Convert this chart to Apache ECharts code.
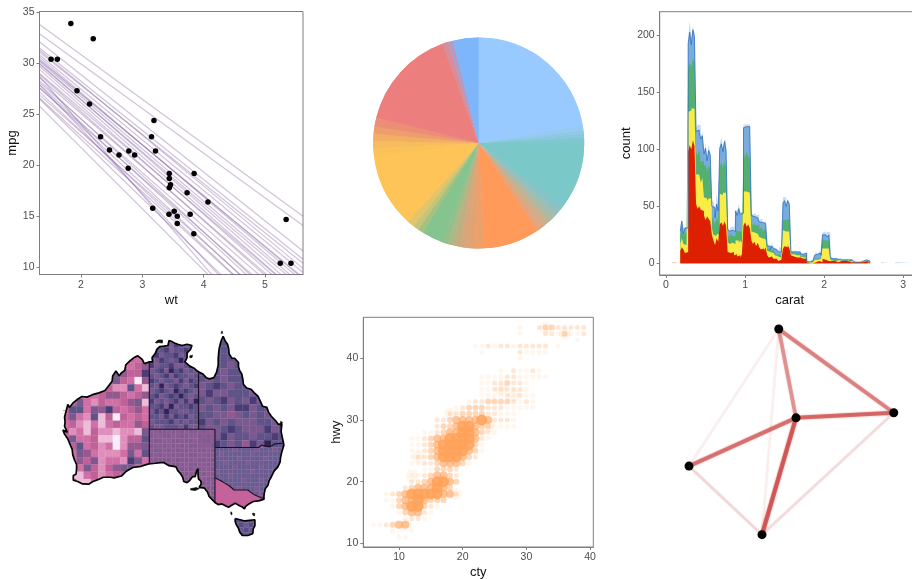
<!DOCTYPE html>
<html><head><meta charset="utf-8">
<style>html,body{margin:0;padding:0;background:#fff}#c{width:912px;height:579px;filter:blur(0.45px)}</style>
<script src="https://cdn.jsdelivr.net/npm/echarts@6/dist/echarts.min.js"></script>
</head><body><div id="c"></div>
<script>
// ---------- panel 1: mpg vs wt
const wt  = [2.62,2.875,2.32,3.215,3.44,3.46,3.57,3.19,3.15,3.44,3.44,4.07,3.73,3.78,5.25,5.424,5.345,2.2,1.615,1.835,2.465,3.52,3.435,3.84,3.845,1.935,2.14,1.513,3.17,2.77,3.57,2.78];
const mpg = [21,21,22.8,21.4,18.7,18.1,14.3,24.4,22.8,19.2,17.8,16.4,17.3,15.2,10.4,10.4,14.7,32.4,30.4,33.9,21.5,15.5,15.2,13.3,19.2,27.3,26,30.4,15.8,19.7,15,21.4];
const lineStart = [33.8,32.9,32.1,31.5,31.3,31.1,30.8,30.6,30.4,30.3,30.2,30.0,29.9,29.7,29.4,29.0,28.9,28.6,28.3,28.1,27.9,27.6,27.6,27.2,26.9,26.6,26.5,25.8,28.7,27.9];
const lineEnd   = [15,14.1,11.6,10.8,9.9,10.4,9.5,8.6,8.9,9,8.2,7.4,7.9,7,6.6,7,5.9,6.2,4.5,5.5,4.2,3.5,4.9,2.9,3.8,3,1.5,0,-1,0.5];
const wtEdges = [1.324,5.62];

// ---------- panel 2: pie
const pieValues = [80,3,2,2,3,37,3,3,3,3,3,4,31,5,4,4,4,3,3,12,3,3,4,40,5,4,4,4,5,56,3,3,14];
const pieColors = ['#99CAFF','#97C9F3','#8FC9E8','#88C8DC','#80C8CF','#7BC8C8','#86C3C6','#93C0BE','#A4BCAD','#B8B59B','#CDAE8B','#E0A67F','#FF9A5A','#ECA06A','#E2A272','#D8A678','#C2AE80','#ABB985','#96BE8B','#85C48F','#A3C280','#C4C578','#E3C46A','#FFC457','#FBC258','#F7BC5C','#F2AE63','#EE9E6C','#EC8D75','#EC7F7D','#D58E9E','#B49BC2','#7DB6FB'];

// ---------- panel 3: stacked carat histogram (five columns per 0.1 carat block)
const caratStart = [0.18,0.28,0.38,0.48,0.58,0.68,0.78,0.88,0.98,1.08,1.18,1.28,1.38,1.48,1.58,1.68,1.78,1.88,1.98,2.08,2.18,2.28,2.38,2.48];
const histRed = [[11,14,12,9,10],[98,104,100,108,103],[52,48,50,47,46],[42,38,41,39,37],[25,20,16,22,19],[34,36,33,37,33],[10,9,8,10,7],[8,6,7,5,8],[33,36,32,34,31],[20,17,19,15,18],[14,12,13,11,14],[7,5,6,5,4],[4,3,2,3,2],[13,15,14,16,13],[7,6,6,5,6],[5,4,4,3,4],[1,0,1,0,1],[1,1,2,1,1],[4,3,4,2,3],[2,1,2,2,1],[2,2,1,2,2],[2,2,1,2,1],[1,1,0,1,1],[1,1,2,1,1]];
const histYellow = [[6,8,5,7,6],[35,30,36,28,33],[26,30,28,24,29],[16,19,14,18,20],[6,5,8,4,6],[27,24,29,25,27],[9,8,10,9,10],[12,14,11,15,10],[30,27,31,28,32],[8,10,7,11,8],[9,10,8,10,8],[4,5,3,4,5],[3,3,4,2,3],[16,13,15,12,16],[1,2,1,2,1],[2,1,2,1,2],[0,1,0,1,0],[2,2,1,3,2],[9,10,8,11,9],[1,1,1,0,1],[1,0,1,1,0],[0,1,0,0,1],[0,0,1,0,0],[1,0,1,1,1]];
const histGreen = [[8,10,7,11,9],[38,42,36,44,40],[20,16,22,18,15],[27,30,25,29,26],[10,13,9,14,11],[25,28,22,27,24],[7,6,8,5,7],[9,8,11,8,10],[33,30,35,32,29],[8,6,9,7,8],[7,9,6,8,9],[2,3,2,3,2],[2,1,2,2,1],[9,10,8,11,9],[1,1,1,2,1],[2,1,1,2,1],[1,0,0,1,0],[1,1,2,1,1],[8,7,9,7,8],[1,1,1,1,0],[0,1,0,0,1],[0,0,1,0,0],[0,0,0,0,0],[0,0,0,0,0]];
const histBlue = [[3,5,2,4,6],[22,27,20,25,23],[18,23,15,20,22],[11,14,10,13,12],[9,11,7,12,10],[15,17,14,18,15],[4,5,3,6,4],[17,14,19,15,16],[23,27,21,26,24],[6,8,5,7,6],[6,5,8,6,5],[2,2,1,3,2],[3,4,2,3,4],[15,17,13,16,14],[1,1,2,1,1],[1,2,1,1,2],[0,0,1,0,1],[3,4,2,4,3],[4,5,4,3,5],[1,1,0,1,1],[0,1,1,0,0],[0,0,0,1,0],[0,0,0,0,0],[0,0,0,0,0]];
const histPale = [[4,2,5,1,3],[5,10,6,4,3],[3,5,6,2,4],[2,4,3,6,2],[3,7,2,10,4],[4,6,3,2,8],[2,1,3,2,1],[2,3,4,2,1],[3,2,4,2,3],[3,2,4,2,3],[2,3,1,2,3],[2,1,2,3,1],[1,3,1,5,2],[5,3,2,2,1],[1,1,1,1,0],[1,1,1,0,1],[0,1,0,1,0],[1,2,1,2,1],[2,3,1,5,2],[1,0,1,1,1],[0,1,0,0,1],[0,0,1,0,0],[0,0,0,0,0],[0,0,0,0,0]];
const traceRed = [[0.08,1],[0.17,1]];
const traceBlue = [[2.72,1],[2.82,1]];
const traceBlue2 = [[2.9,1],[3.1,1]];

// ---------- panel 4: cty vs hwy, level digits per hwy row beginning at a first cty
const scatterHwy   = [45,44,43,42,41,40,38,37,36,35,34,33,32,31,30,29,28,27,26,25,24,23,22,21,20,19,18,17,16,15,14,13,12,11];
const scatterFirst = [29,29,38,22,23,29,26,23,23,23,23,21,19,18,16,16,14,12,12,12,12,12,14,12,12,11,8,8,9,10,11,6,9,10];
const scatterLevels = ["10023322222","10002213112","1","11212212222201","10000021111","1","1021121","11112211111","11223221","11222221","111121211","12233332121","1233322211111","22333322111","2234444542221","2334554331111","112344554321","1123445555421","112345555531","112345555431","12234555432","1122344431","113332","11234432","22345543","23444543","123455555442","1134454333","13455321","134421","1221","112344","1001","11"];
const scatterHalo = [[36,44],[33,45],[18,31],[13,24],[12,21],[19,18],[11,13],[24,29],[26,35],[28,34]];

// ---------- panel 5: network
const nodeX = [47.5,93.5,54.4,11.6,40.8];
const nodeY = [93.9,57.5,55.3,34.3,4.5];
const edgeFrom = [0,0,2,3,4,0,0,3,4];
const edgeTo   = [1,2,1,2,2,3,4,4,1];
const edgeWeight = [0.58,0.5,0.72,0.66,0.82,0.09,0.09,0.2,0.18];

// ---------- panel 6: Australia map (lon/lat)
const coast = [[142.5,-10.7],[142.9,-11.5],[143.3,-12],[143.5,-12.7],[143.6,-13.6],[144.1,-14.3],[144.6,-14.3],[145.3,-15],[145.3,-15.7],[145.5,-16.3],[145.9,-16.9],[146.1,-17.8],[146.2,-18.6],[146.8,-19.2],[147.6,-19.4],[148.3,-20.1],[148.9,-20.6],[149.2,-21.2],[149.7,-22.2],[150.5,-22.4],[150.8,-23.2],[151.3,-23.85],[152.1,-24.6],[152.6,-25.2],[153.2,-25.1],[153.1,-26.4],[153.3,-27.3],[153.5,-28.1],[153.6,-28.65],[153.2,-29.8],[153,-30.6],[152.9,-31.4],[152.5,-32.2],[151.8,-32.9],[151.3,-33.85],[150.9,-34.5],[150.7,-35.2],[150.2,-35.8],[150,-36.6],[149.95,-37.1],[149.97,-37.5],[149,-37.8],[148,-37.9],[147.2,-38.3],[146.6,-38.7],[146.4,-39.1],[146,-38.8],[145.5,-38.6],[145.1,-38.4],[144.7,-38.2],[144.4,-38.3],[143.9,-38.6],[143.5,-38.85],[142.9,-38.6],[142.3,-38.3],[141.6,-38.4],[141,-38.05],[140.5,-37.6],[139.9,-37],[139.6,-36.3],[139.1,-35.7],[138.5,-35.6],[138.1,-35.6],[138.5,-35],[138.4,-34.5],[138,-34.2],[137.9,-33.4],[137.9,-32.5],[137.6,-33],[137.4,-33.8],[136.9,-33.8],[136.4,-34.4],[135.9,-34.8],[135.3,-34.6],[135.1,-33.9],[134.7,-33.3],[134.2,-32.8],[133.9,-32.2],[133.4,-32.1],[132.6,-32],[131.7,-31.5],[131.1,-31.5],[130.1,-31.6],[128.9,-31.7],[127.5,-32.1],[126,-32.3],[124.8,-32.9],[123.9,-33.7],[122.6,-34],[121.9,-33.9],[120.6,-33.9],[119.6,-34.3],[118.7,-34.6],[117.9,-35.05],[116.8,-35],[115.9,-34.6],[115.1,-34.4],[115.1,-33.6],[115.6,-33.4],[115.7,-32.5],[115.7,-31.8],[115.3,-31],[115,-30.2],[114.9,-29.3],[114.6,-28.7],[114.1,-27.6],[113.5,-26.8],[113.2,-26.1],[114,-26.5],[113.5,-25.5],[113.6,-24.8],[113.5,-24],[113.75,-23.1],[114.1,-21.9],[114.4,-22.4],[115,-21.7],[115.8,-21.1],[116.7,-20.6],[117.6,-20.7],[118.6,-20.3],[119.8,-20],[120.9,-19.6],[121.5,-18.9],[122.2,-18.1],[122.3,-17.2],[122.9,-16.4],[123.5,-17.2],[123.9,-16.7],[124.5,-16.3],[124.7,-15.4],[125.5,-14.7],[126.2,-14.2],[126.9,-13.9],[127.7,-14.5],[128.1,-15.2],[128.3,-14.9],[129,-14.9],[129.6,-14.9],[129.5,-14.2],[130.1,-13.5],[130.4,-12.8],[130.9,-12.4],[131.7,-12.3],[132.4,-12.2],[132.6,-11.4],[133,-11.5],[133.6,-11.8],[134.2,-12],[135,-12.2],[135.9,-12],[136.8,-12.2],[136.5,-12.9],[135.9,-13.4],[135.9,-14.2],[135.5,-14.9],[136.4,-15.6],[137.1,-15.9],[137.9,-16.5],[138.8,-16.9],[139.4,-17.5],[140,-17.7],[140.8,-17.5],[141.3,-16.6],[141.6,-15.4],[141.6,-14.3],[141.7,-13.2],[141.8,-12.6],[142.1,-11.5],[142.5,-10.7]];
const tasmania = [[144.7,-40.7],[145.6,-40.9],[146.5,-41.1],[147.3,-41],[148.3,-40.9],[148.3,-41.9],[148,-42.4],[147.9,-43.2],[147,-43.5],[146.8,-43.6],[146,-43.5],[145.5,-42.9],[145.3,-42.3],[144.9,-41.7],[144.7,-41.2],[144.7,-40.7]];
const islands = [
 [[130.1,-11.7],[130.6,-11.3],[131.4,-11.3],[131.4,-11.8],[130.7,-11.7],[130.3,-11.8]],
 [[136.5,-35.8],[137.6,-35.6],[138.1,-35.8],[137.4,-36.1],[136.6,-36]],
 [[136.4,-13.9],[136.9,-13.8],[136.8,-14.2],[136.4,-14.2]],
 [[153,-24.7],[153.3,-24.8],[153.2,-25.7],[153,-25.3]],
 [[143.9,-39.6],[144.1,-39.7],[144.1,-40.1],[143.9,-40]],
 [[147.9,-39.8],[148.3,-39.9],[148.2,-40.3],[147.9,-40.1]],
 [[142.1,-10.2],[142.4,-10.2],[142.3,-9.8]],
 [[113.4,-22.9],[113.5,-23]]
];
const stateBorders = [
 [[129,-14.9],[129,-31.7]],
 [[129,-26],[141,-26]],
 [[138,-16.6],[138,-26]],
 [[141,-26],[141,-38.05]],
 [[141,-29],[149,-29],[149.5,-28.6],[151,-28.9],[152,-28.4],[153.5,-28.3]],
 [[141,-34],[142.5,-34.7],[143.6,-35.3],[144.5,-36],[146,-36],[147,-36],[148.2,-36.8],[149.97,-37.5]]
];
const victoria = [[141,-34],[142.5,-34.7],[143.6,-35.3],[144.5,-36],[146,-36],[147,-36],[148.2,-36.8],[149.97,-37.5],[150.5,-40],[141,-40]];
const waLevels = ["555555555565","555555555654","555555534551","555555535694","555555577268","556665445654","553675665438","522634156546","536728595656","657868656645","576857787783","536658897552","552657697443","563467776362","564537667136","576357543354","588657655563","538867666555"];
const ntLevels = ["2323232322","2322312322","3221322123","2132213232","2312320322","1322133212","3213021323","2321312232","1232231312","2303212321","3212302123","2132120232","1323213130","2213032212","3120223322","2231312132","3222132322","2332223133"];
const qldLevels = ["222222232222","222222312222","222223212222","222222122222","222232232222","222322312222","232322322222","321232213222","313322231322","232132313222","323231132222","223343232322","132323332232","233212333132","223132232212","221232413022"];
const saLevels = ["443343434334344","344334433443434","433443343344334","344343434334443","433434343443343","343443434334434","434334343443343","343443344334434","434334434343443","344343343434344","433434434343433","344343343434344","433443434343433","344334343443434","434343434334343","343434343434434"];
const nswLevels = ["2222322223222322","2322222232222222","2222232222232223","2232222322222222","2222322222322222","3222222232222322","2223222222222222","2222223222322222","2322222222222232","2222232223222222","2232222222322222","2222222322222222"];
const tasLevels = ["11211","21212","12121","11211"];
const levelColors = ['#33215a','#4a3d75','#5f5388','#7a5a8e','#94598f','#bf6298','#d070a6','#e08fbc','#ecbcd8','#f6eef6'];
const fineColors = {1:'#574c84',2:'#695b8f',3:'#80598f',4:'#8c5a92'};
const fineStroke = {1:'#665b94',2:'#75679a',3:'#8f699c',4:'#97699d'};

// ---------- layout helpers
const axisC = '#7f7f7f', labC = '#4d4d4d', font = 'Liberation Sans';
function cartAxes(o){
  return {
    type:'value', gridIndex:o.g, min:o.min, max:o.max, name:o.name, nameLocation:'middle', nameGap:o.gap,
    nameTextStyle:{color:'#111',fontSize:13,fontFamily:font},
    axisLine:{show:true,onZero:false,lineStyle:{color:axisC,width:1}},
    axisTick:{show:true,length:3,lineStyle:{color:axisC},customValues:o.ticks},
    axisLabel:{color:labC,fontSize:10.5,fontFamily:font,margin:5,customValues:o.ticks,hideOverlap:false,showMinLabel:true,showMaxLabel:true},
    splitLine:{show:false}
  };
}
const hiddenAxis = (g,min,max)=>({type:'value',gridIndex:g,min,max,show:false,splitLine:{show:false}});
const panelGrid = (left,top,width,height)=>({left,top,width,height,show:true,borderColor:axisC,borderWidth:1,backgroundColor:'#fff',containLabel:false,outerBoundsMode:'none'});
const plainGrid = (left,top,width,height)=>({left,top,width,height,show:false,outerBoundsMode:'none'});

// ---------- series
const series = [];
// panel 1
lineStart.forEach((s,i)=>series.push({type:'line',xAxisIndex:0,yAxisIndex:0,data:[[wtEdges[0],s],[wtEdges[1],lineEnd[i]]],showSymbol:false,symbol:'none',clip:true,silent:true,lineStyle:{color:'rgba(125,85,155,0.36)',width:1.2},z:2}));
series.push({type:'scatter',xAxisIndex:0,yAxisIndex:0,data:wt.map((w,i)=>[w,mpg[i]]),symbolSize:5.5,itemStyle:{color:'#000',opacity:1},z:5,silent:true});
// panel 2: painted twice so that no seams show between the slices
for (let k=0;k<2;k++) series.push({type:'pie',center:[478.7,143],radius:[0,105.5],startAngle:90,clockwise:true,label:{show:false},labelLine:{show:false},silent:true,
  data:pieValues.map((v,i)=>({value:v,itemStyle:{color:pieColors[i],borderWidth:0}}))});
// panel 3: cumulative tops, painted from the tallest layer down
const caratX = caratStart.flatMap(c=>[0,1,2,3,4].map(k=>+(c+0.02*k).toFixed(2))).concat([2.58]);
const histLayers = [[histRed,'#DD2000',0],[histYellow,'#F8EC45',0],[histGreen,'#54B06E',0],[histBlue,'#78ACDC',0.8],[histPale,'#C8DBF0',0]];
const running = caratX.map(()=>0);
const histSeries = histLayers.map(([rows,color,edge])=>{
  const vals = rows.flat();
  vals.forEach((v,i)=>{running[i]+=v;});
  return {type:'line',xAxisIndex:1,yAxisIndex:1,step:'end',symbol:'none',showSymbol:false,silent:true,
    lineStyle:{width:edge,color:'#2F6FBF'},areaStyle:{color,opacity:1,origin:0},data:caratX.map((x,i)=>[x,i<vals.length?running[i]:0]),z:3};
});
histSeries.reverse().forEach(s=>series.push(s));
[[traceRed,'rgba(221,32,0,.35)'],[traceBlue,'rgba(110,164,216,.4)'],[traceBlue2,'rgba(110,164,216,.4)']].forEach(([d,color])=>{
  series.push({type:'line',xAxisIndex:1,yAxisIndex:1,symbol:'none',silent:true,lineStyle:{width:0},areaStyle:{color,opacity:1,origin:0},data:d,z:3});
});
// panel 4
const levelOpacity = [0,0.1,0.26,0.42,0.62,0.9], levelSize = [0,5,5,6,8,11];
for (let lv=1;lv<=5;lv++){
  const pts=[];
  scatterHwy.forEach((h,r)=>{[...scatterLevels[r]].forEach((d,k)=>{if(+d===lv)pts.push([scatterFirst[r]+k,h]);});});
  series.push({type:'scatter',xAxisIndex:2,yAxisIndex:2,data:pts,symbolSize:levelSize[lv],silent:true,itemStyle:{color:'#FFA25A',opacity:levelOpacity[lv]},z:3});
}
series.push({type:'scatter',xAxisIndex:2,yAxisIndex:2,data:scatterHalo,symbolSize:12,silent:true,itemStyle:{color:'#FFA25A',opacity:0.1},z:3});
// panel 5
series.push({type:'graph',coordinateSystem:'cartesian2d',xAxisIndex:4,yAxisIndex:4,layout:'none',silent:true,symbolSize:9,
  itemStyle:{color:'#000',opacity:1},label:{show:false},z:5,
  data:nodeX.map((x,i)=>({name:'n'+i,value:[x,nodeY[i]]})),
  links:edgeFrom.map((f,i)=>({source:f,target:edgeTo[i],lineStyle:{color:'rgb(205,75,75)',opacity:edgeWeight[i],width:edgeWeight[i]>0.4?3.4+edgeWeight[i]:2.8,curveness:0,shadowBlur:2,shadowColor:'rgba(205,75,75,'+edgeWeight[i]+')'}}))
});
// panel 6
const blocks = [
  {rows:waLevels,lon0:113,lat0:-13.8,dLon:1.3333,dLat:1.2},
  {rows:ntLevels,lon0:129,lat0:-10.9,dLon:0.9,dLat:0.84},
  {rows:qldLevels,lon0:138,lat0:-10,dLon:1.3333,dLat:1.1875},
  {rows:saLevels,lon0:129,lat0:-26,dLon:0.8,dLat:0.775,fine:true},
  {rows:nswLevels,lon0:141,lat0:-29,dLon:0.8125,dLat:0.72,fine:true},
  {rows:tasLevels,lon0:144.5,lat0:-40.5,dLon:0.9,dLat:0.85,fine:true}
];
const cells=[];
blocks.forEach(b=>b.rows.forEach((row,r)=>[...row].forEach((d,c)=>cells.push([b.lon0+c*b.dLon,b.lat0-r*b.dLat,b.lon0+(c+1)*b.dLon,b.lat0-(r+1)*b.dLat,+d,b.fine?1:0]))));
series.push({type:'custom',xAxisIndex:3,yAxisIndex:3,silent:true,clip:false,z:2,data:cells,
  renderItem(p,api){
    const a=api.coord([api.value(0),api.value(1)]), b=api.coord([api.value(2),api.value(3)]);
    const lv=api.value(4), fine=api.value(5);
    const col=fine?fineColors[lv]:levelColors[lv];
    return {type:'rect',shape:{x:a[0],y:a[1],width:b[0]-a[0],height:b[1]-a[1]},
      style:{fill:col,stroke:fine?fineStroke[lv]:col,lineWidth:fine?0.45:0.3}};
  }});
series.push({type:'custom',xAxisIndex:3,yAxisIndex:3,silent:true,clip:false,z:3,data:[[0]],
  renderItem(p,api){
    const pts=victoria.map(q=>api.coord(q));
    return {type:'polygon',shape:{points:pts},style:{fill:'#C4629B',stroke:'#C4629B',lineWidth:0.3}};
  }});
const TL=[110,-8],BL=[110,-46],BR=[156,-46],TR=[156,-8];
const maskRing=[TL,BL,BR,...tasmania,BR,TR,...coast,TR];
series.push({type:'custom',xAxisIndex:3,yAxisIndex:3,silent:true,clip:false,z:4,data:[[0]],
  renderItem(p,api){return {type:'polygon',shape:{points:maskRing.map(q=>api.coord(q))},style:{fill:'#fff'}};}});
stateBorders.forEach(b=>series.push({type:'line',xAxisIndex:3,yAxisIndex:3,data:b,symbol:'none',showSymbol:false,silent:true,clip:false,lineStyle:{color:'#1a1020',width:1.1},z:5}));
[coast,tasmania].forEach(b=>series.push({type:'line',xAxisIndex:3,yAxisIndex:3,data:b,symbol:'none',showSymbol:false,silent:true,clip:false,lineStyle:{color:'#000',width:1.7},z:6}));
islands.forEach(b=>series.push({type:'custom',xAxisIndex:3,yAxisIndex:3,silent:true,clip:false,z:6,data:[[0]],
  renderItem(p,api){return {type:'polygon',shape:{points:b.map(q=>api.coord(q))},style:{fill:'#111',stroke:'#000',lineWidth:0.6}};}}));

const option = {
  animation:false, backgroundColor:'#fff', legend:{show:false}, tooltip:{show:false},
  grid:[panelGrid(39.5,11.5,263.5,263),panelGrid(659.7,11.7,260,263.3),panelGrid(363.3,317.3,230,229.7),plainGrid(45.4,320,251.6,230.7),plainGrid(660,315,250,230)],
  xAxis:[
    cartAxes({g:0,min:1.324,max:5.62,ticks:[2,3,4,5],name:'wt',gap:19}),
    cartAxes({g:1,min:-0.08,max:3.21,ticks:[0,1,2,3],name:'carat',gap:19}),
    cartAxes({g:2,min:4.4,max:40.5,ticks:[10,20,30,40],name:'cty',gap:19}),
    hiddenAxis(3,110,156), hiddenAxis(4,0,100)
  ],
  yAxis:[
    cartAxes({g:0,min:9.3,max:35.07,ticks:[10,15,20,25,30,35],name:'mpg',gap:16}),
    cartAxes({g:1,min:-10.3,max:221,ticks:[0,50,100,150,200],name:'count',gap:21}),
    cartAxes({g:2,min:9.4,max:46.65,ticks:[10,20,30,40],name:'hwy',gap:16}),
    hiddenAxis(3,-46,-8), hiddenAxis(4,0,100)
  ],
  series
};
echarts.init(document.getElementById('c'),null,{renderer:'canvas'}).setOption(option);
</script></body></html>
